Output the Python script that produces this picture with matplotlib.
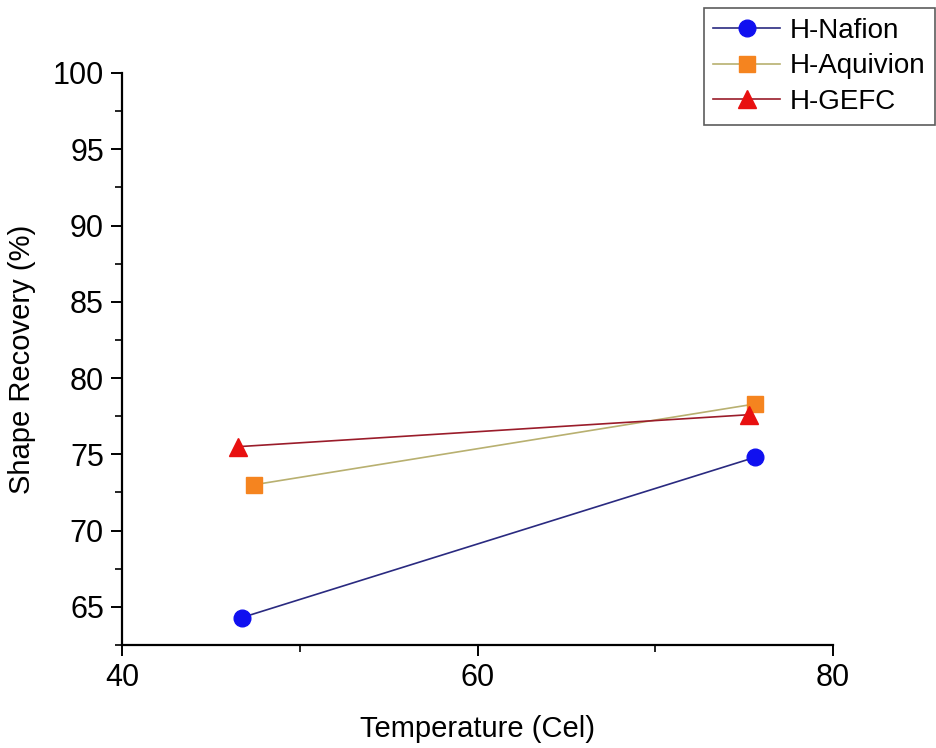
import matplotlib
matplotlib.use("Agg")
from matplotlib import pyplot as plt
from matplotlib.ticker import MultipleLocator

plt.rcParams['font.family'] = ['Liberation Sans', 'DejaVu Sans']

# data
nafion_x = [46.75, 75.6]
nafion_y = [64.3, 74.8]
aquivion_x = [47.4, 75.6]
aquivion_y = [73.0, 78.3]
gefc_x = [46.5, 75.3]
gefc_y = [75.5, 77.6]

fig = plt.figure(figsize=(9.37, 7.48), dpi=100)
ax = fig.add_axes([122/937, 1 - 645/748, (833 - 122)/937, (645 - 73)/748])

ax.plot(nafion_x, nafion_y, '-', color='#2a2a80', lw=1.2, marker='o', ms=12,
        mfc='#1010f0', mec='#1010f0', label='H-Nafion')
ax.plot(aquivion_x, aquivion_y, '-', color='#b8b070', lw=1.2, marker='s', ms=11,
        mfc='#f5841f', mec='#f5841f', label='H-Aquivion')
ax.plot(gefc_x, gefc_y, '-', color='#9a1c2a', lw=1.2, marker='^', ms=13,
        mfc='#e81010', mec='#e81010', label='H-GEFC')

ax.set_xlim(40, 80)
ax.set_ylim(62.5, 100)
ax.xaxis.set_major_locator(MultipleLocator(20))
ax.xaxis.set_minor_locator(MultipleLocator(10))
ax.yaxis.set_major_locator(MultipleLocator(5))
ax.yaxis.set_minor_locator(MultipleLocator(2.5))
ax.spines['top'].set_visible(False)
ax.spines['right'].set_visible(False)
for s in ('left', 'bottom'):
    ax.spines[s].set_linewidth(1.6)
ax.tick_params(which='major', direction='out', length=8, width=1.4, labelsize=22, pad=5)
ax.tick_params(which='minor', direction='out', length=5, width=1.2)

ax.set_xlabel('Temperature (Cel)', fontsize=21, labelpad=16)
ax.set_ylabel('Shape Recovery (%)', fontsize=21, labelpad=12)

leg = fig.legend(loc='upper right', bbox_to_anchor=(935/937, 1 - 8/748), fontsize=20,
                 frameon=True, fancybox=False, edgecolor='#333333', handlelength=2.4,
                 borderpad=0.35, labelspacing=0.35, handletextpad=0.35, borderaxespad=0)
leg.get_frame().set_linewidth(1.2)

fig.savefig('out.png', dpi=100)
